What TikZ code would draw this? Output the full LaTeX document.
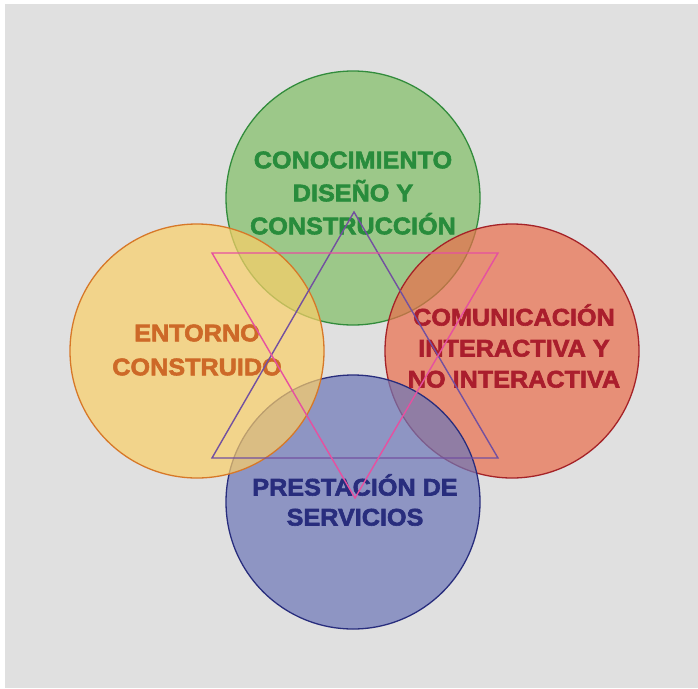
\documentclass[tikz,border=0pt]{standalone}
\usepackage{fontspec}
\newfontfamily\lab{Liberation Sans}[FakeStretch=1.05,BoldFeatures={FakeBold=2.4}]
\definecolor{bg}{RGB}{224,224,224}
\definecolor{gfill}{RGB}{128,191,101}
\definecolor{yfill}{RGB}{251,207,104}
\definecolor{rfill}{RGB}{235,110,75}
\definecolor{bfill}{RGB}{108,118,184}
\definecolor{gline}{RGB}{50,140,60}
\definecolor{yline}{RGB}{215,120,40}
\definecolor{rline}{RGB}{165,35,40}
\definecolor{bline}{RGB}{40,45,125}
\definecolor{gtext}{RGB}{40,140,60}
\definecolor{ytext}{RGB}{205,105,40}
\definecolor{rtext}{RGB}{170,30,45}
\definecolor{btext}{RGB}{40,45,125}
\definecolor{purp}{RGB}{115,80,160}
\definecolor{pink}{RGB}{230,80,160}
\begin{document}
\begin{tikzpicture}[x=1pt,y=-1pt,
  circ/.style={circle,minimum size=254pt,inner sep=0pt,line width=1.3pt,fill opacity=0.7},
  lbl/.style={font=\lab\bfseries\fontsize{24}{32}\selectfont,align=center,inner sep=0pt},
  tri/.style={line width=1.4pt,line join=miter}]
\useasboundingbox (0,0) rectangle (698,688);
\fill[white] (0,0) rectangle (698,688);
\fill[bg] (5,4) rectangle (698,688);
\node[circ,draw=gline,fill=gfill] (g) at (353,198) {};
\node[circ,draw=rline,fill=rfill] (r) at (512,351) {};
\node[circ,draw=bline,fill=bfill] (b) at (353,502) {};
\node[circ,draw=yline,fill=yfill] (y) at (197,351) {};
\node[lbl,text=gtext] (gt) at (353,193) {CONOCIMIENTO\\[1pt]DISEÑO Y\\[1pt]CONSTRUCCIÓN};
\node[lbl,text=ytext] (yt) at (197,350) {ENTORNO\\[2pt]CONSTRUIDO};
\node[lbl,text=rtext] (rt) at (514,346) {COMUNICACIÓN\\[-1pt]INTERACTIVA Y\\[-1pt]NO INTERACTIVA};
\node[lbl,text=btext] (bt) at (355,500) {PRESTACIÓN DE\\[-2pt]SERVICIOS};
\coordinate (pa) at (354,212);
\coordinate (pl) at (212,458);
\coordinate (pr) at (498,458);
\coordinate (ka) at (355,498);
\coordinate (kl) at (212,253);
\coordinate (kr) at (498,253);
\draw[tri,draw=purp] (pa) -- (pl) -- (pr) -- cycle;
\draw[tri,draw=pink] (kl) -- (kr) -- (ka) -- cycle;
\end{tikzpicture}
\end{document}
